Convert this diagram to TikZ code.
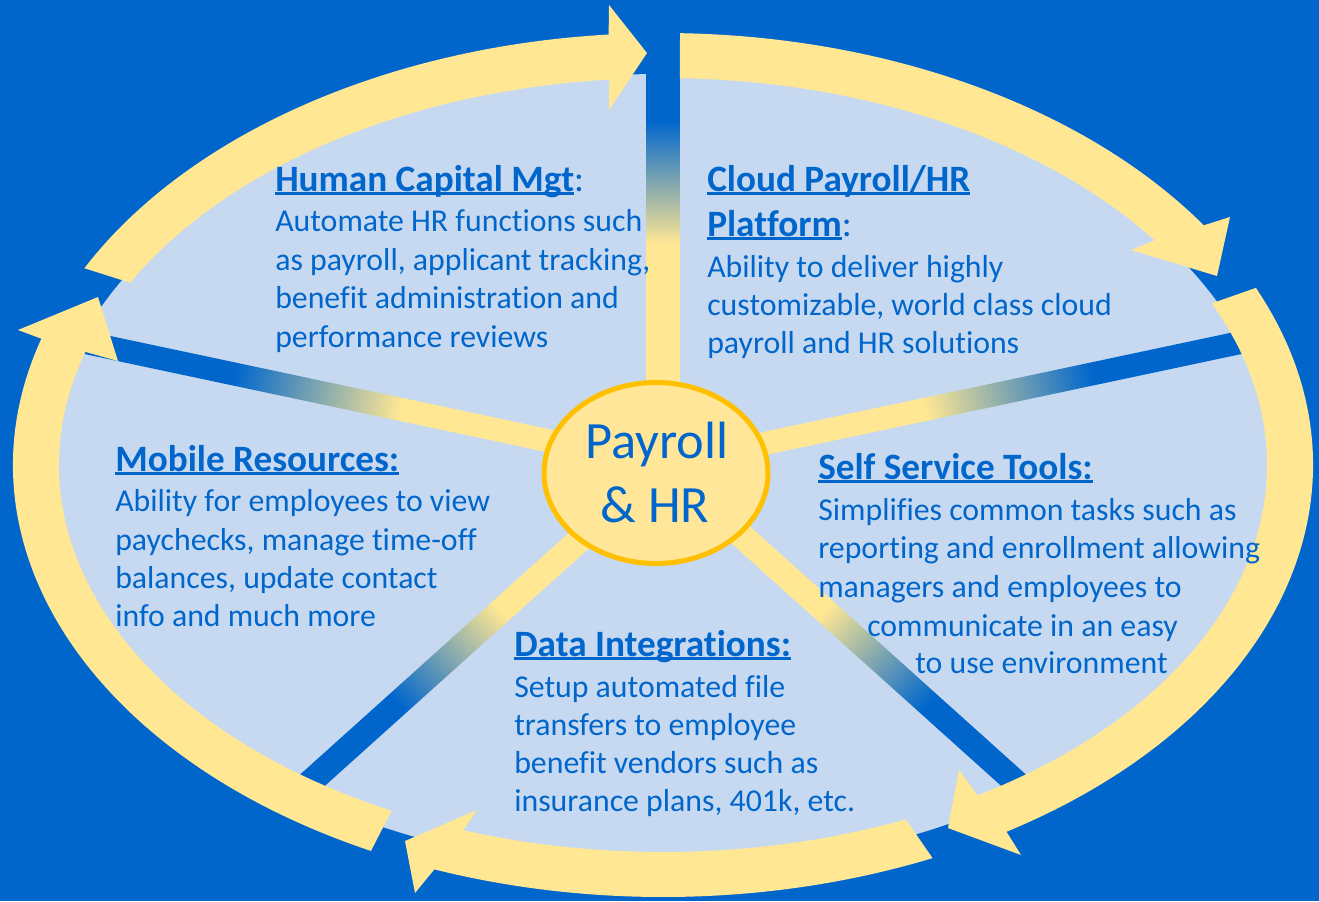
\documentclass[tikz,border=0pt]{standalone}
\usepackage{fontspec}
\setmainfont{Carlito}[Ligatures=NoCommon]
\usetikzlibrary{shapes.geometric}
\definecolor{bgblue}{HTML}{0066CC}
\definecolor{lblue}{HTML}{C6D9F0}
\definecolor{bandy}{HTML}{FFE793}
\definecolor{cfill}{HTML}{FFE699}
\definecolor{cedge}{HTML}{FFC000}
\definecolor{tblue}{HTML}{0066CC}
\pgfdeclarehorizontalshading{spokesh}{100bp}{color(0bp)=(bandy); color(47bp)=(bandy); color(61bp)=(bgblue); color(100bp)=(bgblue)}
\pgfdeclarehorizontalshading{spokeshT}{100bp}{color(0bp)=(bandy); color(52bp)=(bandy); color(67bp)=(bgblue); color(100bp)=(bgblue)}
\newcommand\myul[1]{\setbox0\hbox{#1}\rlap{\vrule height -0.9pt depth 2.8pt width \wd0}\box0}
\newcommand\hd[1]{\textbf{\myul{#1}}}
% ring arrow: outer start, outer end, barb1, tip, barb2, inner start, inner end
\newcommand\ringarrow[7]{%
  \fill[bandy] ([shift={(663,465)}]#1:650 and 432)
    arc[start angle=#1, end angle=#2, x radius=650, y radius=432]
    -- #3 -- #4 -- #5
    -- ([shift={(663,465)}]#6:604 and 387)
    arc[start angle=#6, end angle=#7, x radius=604, y radius=387] -- cycle;}
\newcommand\spoke[4][spokesh]{%
  \begin{scope}[transform canvas={shift={(663,465)}, rotate=#2}]
    \shade[shading=#1] (0,-#4/2) rectangle (#3,#4/2);
  \end{scope}}
\tikzset{
  txt/.style={text=tblue, font=\fontsize{23.85}{29}\selectfont, inner sep=0pt, anchor=base west},
  hdr/.style={txt, font=\fontsize{27.9}{32}\selectfont},
  ctxt/.style={text=tblue, font=\fontsize{39.3}{48}\selectfont, inner sep=0pt, anchor=base},
  hub/.style={ellipse, draw=cedge, fill=cfill, line width=3.75pt, minimum width=168pt, minimum height=135.75pt, inner sep=0pt}
}
\begin{document}
\begin{tikzpicture}[x=0.75pt,y=-0.75pt]
\fill[bgblue] (0,0) rectangle (1319,901);
\useasboundingbox (0,0) rectangle (1319,901);
% light blue disc
\fill[lblue] (661,472) ellipse [x radius=615, y radius=398];
% spokes
\spoke[spokeshT]{90}{409.5}{33}
\spoke{11.98}{609.6}{23}
\spoke{-41.96}{495.5}{25}
\spoke{-138.04}{495.5}{25}
\spoke{168.02}{609.6}{23}
% ring arrows
\ringarrow{271.5}{326.3}{(1230,217)}{(1217,276)}{(1131,250)}{324.5}{271.6}
\ringarrow{335.8}{418.1}{(1021,855)}{(948,828)}{(959,770)}{418.6}{335.3}
\ringarrow{65.5}{110.6}{(415,893)}{(405,841)}{(477,810)}{109.3}{66.3}
\ringarrow{116.7}{197}{(18,330)}{(98,297)}{(118,361)}{197}{116.7}
\ringarrow{207.1}{265.2}{(609,5)}{(647,53)}{(609,110)}{264.9}{208.1}
% hub
\node[hub] (hub) at (656,473) {};
\node[ctxt] (hubA) at (657,458) {Payroll};
\node[ctxt] (hubB) at (655,522) {\& HR};
% Human Capital Mgt
\node[hdr] (hcm0) at (275,191) {\hd{Human Capital Mgt}:};
\node[txt] (hcm1) at (275,231) {Automate HR functions such};
\node[txt] (hcm2) at (275,270) {as payroll, applicant tracking,};
\node[txt] (hcm3) at (275,308) {benefit administration and};
\node[txt] (hcm4) at (275,347) {performance reviews};
% Cloud
\node[hdr] (cl0) at (707,191) {\hd{Cloud Payroll/HR}};
\node[hdr] (cl1) at (707,236) {\hd{Platform}:};
\node[txt] (cl2) at (707,277) {Ability to deliver highly};
\node[txt] (cl3) at (707,315) {customizable, world class cloud};
\node[txt] (cl4) at (707,353) {payroll and HR solutions};
% Mobile
\node[hdr] (mo0) at (115,471) {\hd{Mobile Resources:}};
\node[txt] (mo1) at (115,511) {Ability for employees to view};
\node[txt] (mo2) at (115,550) {paychecks, manage time-off};
\node[txt] (mo3) at (115,588) {balances, update contact};
\node[txt] (mo4) at (115,626) {info and much more};
% Self service
\node[hdr] (ss0) at (818,479) {\hd{Self Service Tools:}};
\node[txt] (ss1) at (818,520) {Simplifies common tasks such as};
\node[txt] (ss2) at (818,558) {reporting and enrollment allowing};
\node[txt] (ss3) at (818,597) {managers and employees to};
\node[txt] (ss4) at (867,636) {communicate in an easy};
\node[txt] (ss5) at (915,673) {to use environment};
% Data
\node[hdr] (di0) at (514,656) {\hd{Data Integrations:}};
\node[txt] (di1) at (514,697) {Setup automated file};
\node[txt] (di2) at (514,735) {transfers to employee};
\node[txt] (di3) at (514,773) {benefit vendors such as};
\node[txt] (di4) at (514,811) {insurance plans, 401k, etc.};
\end{tikzpicture}
\end{document}
